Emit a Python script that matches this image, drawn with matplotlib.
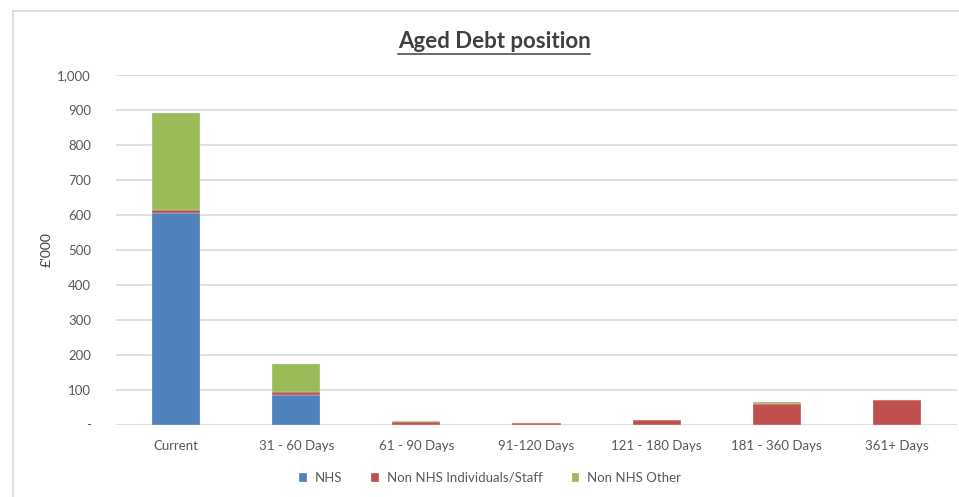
import matplotlib
matplotlib.use("Agg")
import matplotlib.pyplot as plt
from matplotlib.lines import Line2D
from matplotlib.ticker import FuncFormatter
import numpy as np

categories = ["Current", "31 - 60 Days", "61 - 90 Days", "91-120 Days",
              "121 - 180 Days", "181 - 360 Days", "361+ Days"]
nhs = [606, 83, 0, 0, 0, 0, 0]
non_nhs_ind = [8, 9, 7, 4, 12, 60, 71]
non_nhs_other = [276, 81, 4, 0, 0, 3, 0]
series_names = ["NHS", "Non NHS Individuals/Staff", "Non NHS Other"]
colors = ["#4F81BD", "#C0504D", "#9BBB59"]

plt.rcParams['font.family'] = ['Lato', 'DejaVu Sans']

fig = plt.figure(figsize=(9.59, 4.97), dpi=100)
ax = fig.add_axes([116/959, 1-424.5/497, (957-116)/959, (424.5-75)/497])

x = np.arange(len(categories))
bottom = np.zeros(len(categories))
for vals, name, c in zip([nhs, non_nhs_ind, non_nhs_other], series_names, colors):
    ax.bar(x, vals, width=0.4, bottom=bottom, color=c, label=name,
           edgecolor="#FFFFFF", linewidth=0.2, zorder=3)
    bottom += np.array(vals)

ax.set_xlim(-0.5, len(categories) - 0.5)
ax.set_ylim(0, 1000)
ax.set_yticks(range(0, 1001, 100))
ax.yaxis.set_major_formatter(FuncFormatter(lambda v, p: "-" if v == 0 else f"{int(v):,}"))
ax.set_xticks(x)
ax.set_xticklabels(categories)
ax.tick_params(axis='both', length=0, labelsize=9.5, colors="#595959")
ax.tick_params(axis='y', pad=18)
ax.tick_params(axis='x', pad=11)
ax.grid(axis='y', color="#D9D9D9", linewidth=1.2, zorder=0)
for s in ax.spines.values():
    s.set_visible(False)

ax.set_ylabel("£'000", fontsize=10, color="#404040", labelpad=3)

# Title with underline
t = fig.text(494/959, 1-42/497, "Aged Debt position", ha="center", va="center",
             fontsize=16, fontweight="bold", color="#404040")
fig.canvas.draw()
bb = t.get_window_extent()
y_ul = (bb.y0 - 1) / fig.bbox.height
fig.add_artist(Line2D([bb.x0 / fig.bbox.width, bb.x1 / fig.bbox.width], [y_ul, y_ul],
                      transform=fig.transFigure, color="#404040", linewidth=1.1))

# Outer frame
fig.add_artist(Line2D([13/959, 13/959], [1-11/497, 0], transform=fig.transFigure,
                      color="#D9D9D9", linewidth=1.2))
fig.add_artist(Line2D([13/959, 1], [1-11/497, 1-11/497], transform=fig.transFigure,
                      color="#D9D9D9", linewidth=1.2))

leg = fig.legend(loc="center", bbox_to_anchor=(490/959, 1-478/497), ncol=3, frameon=False,
                 fontsize=9.5, handlelength=0.6, handleheight=0.6, columnspacing=2.2,
                 handletextpad=0.6)
for txt in leg.get_texts():
    txt.set_color("#595959")

fig.savefig("out.png", dpi=100)
